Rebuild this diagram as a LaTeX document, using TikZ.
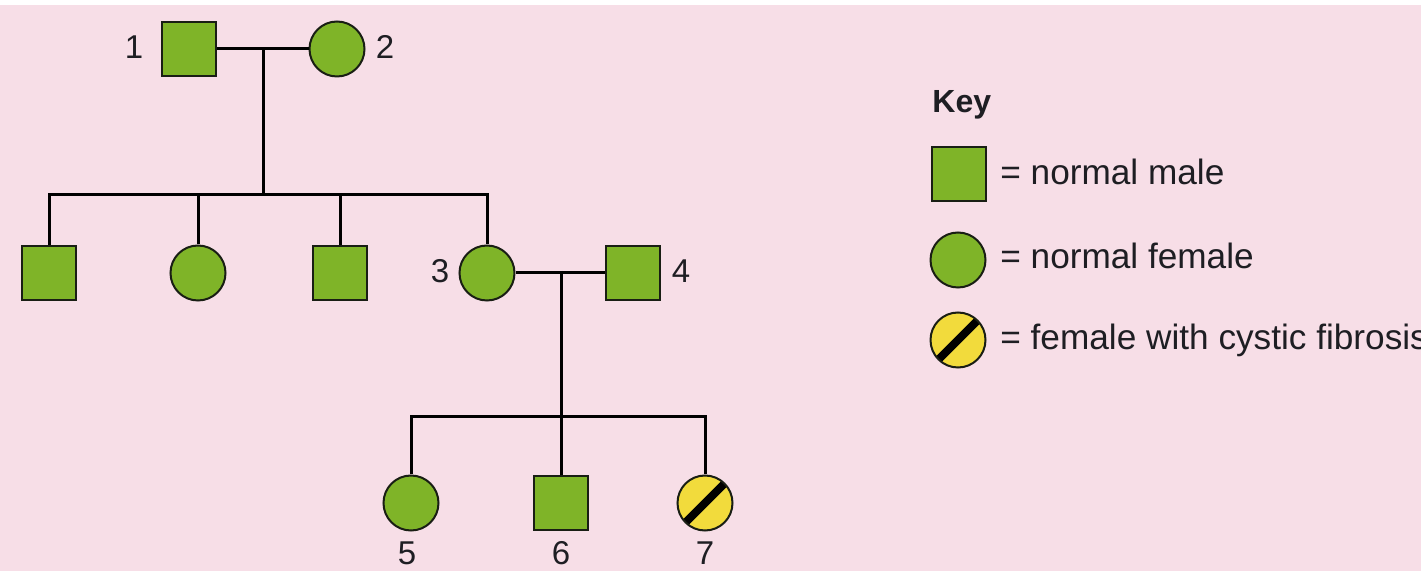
\documentclass[tikz,border=0pt]{standalone}
\usepackage{fontspec}
\setmainfont{Liberation Sans}
\begin{document}
\begin{tikzpicture}[x=0.5pt,y=-0.5pt,
  male/.style={rectangle,draw=outl,line width=1pt,fill=leaf,minimum size=27pt,inner sep=0pt},
  female/.style={circle,draw=outl,line width=1pt,fill=leaf,minimum size=27.5pt,inner sep=0pt},
  cf/.style={circle,draw=outl,line width=1pt,fill=cfyellow,minimum size=27.5pt,inner sep=0pt,
    path picture={\draw[line width=4pt,black] (path picture bounding box.south west) -- (path picture bounding box.north east);}},
  link/.style={line width=1.5pt,black},
  num/.style={font=\fontsize{16.5}{18}\selectfont,text=txt,inner sep=0pt},
  keytxt/.style={font=\fontsize{17.6}{20}\selectfont,text=txt,inner sep=0pt,anchor=base west},
]
\definecolor{pinkbg}{RGB}{247,222,231}
\definecolor{leaf}{RGB}{127,180,40}
\definecolor{cfyellow}{RGB}{242,219,60}
\definecolor{outl}{RGB}{25,30,20}
\definecolor{txt}{RGB}{30,30,35}
\useasboundingbox (0,0) rectangle (1421,571);
\fill[pinkbg] (0,0) rectangle (1421,571);
\fill[white] (0,0) rectangle (1421,5);

% generation I
\node[male] (p1) at (189,49) {};
\node[female] (p2) at (337,49) {};
\node[num] (l1) at (134,47) {1};
\node[num] (l2) at (385,47) {2};

% generation II
\node[male] (c1) at (49,273) {};
\node[female] (c2) at (198,273) {};
\node[male] (c3) at (340,273) {};
\node[female] (p3) at (487,273) {};
\node[male] (p4) at (633,273) {};
\node[num] (l3) at (440,271) {3};
\node[num] (l4) at (681,271) {4};

% generation III
\node[female] (g5) at (411,503) {};
\node[male] (g6) at (561,503) {};
\node[cf] (g7) at (705,503) {};
\node[num] (l5) at (407,553) {5};
\node[num] (l6) at (561,553) {6};
\node[num] (l7) at (705,553) {7};

% connectors
\coordinate (m12) at (263,49);
\coordinate (s1) at (263,195);
\coordinate (m34) at (561,271);
\coordinate (s2) at (561,417);
\draw[link] (p1.east) -- (p2.west);
\draw[link] (m12) -- (s1);
\draw[link] (c1.north) |- (s1) -| (p3.north);
\draw[link] (c2.north) -- (c2.north |- s1);
\draw[link] (c3.north) -- (c3.north |- s1);
\draw[link] (p3.east) -- (p4.west);
\draw[link] (m34) -- (s2);
\draw[link] (g5.north) |- (s2) -| (g7.north);
\draw[link] (g6.north) -- (s2);

% key
\node[font=\fontsize{16}{18}\selectfont\bfseries,text=txt,inner sep=0pt,anchor=base west] (keyt) at (932,113) {Key};
\node[male] (k1) at (959,174) {};
\node[female] (k2) at (958,260) {};
\node[cf] (k3) at (958,340) {};
\node[keytxt] (kt1) at (1000,185) {= normal male};
\node[keytxt] (kt2) at (1000,269) {= normal female};
\node[keytxt] (kt3) at (1000,350) {= female with cystic fibrosis};
\end{tikzpicture}
\end{document}
